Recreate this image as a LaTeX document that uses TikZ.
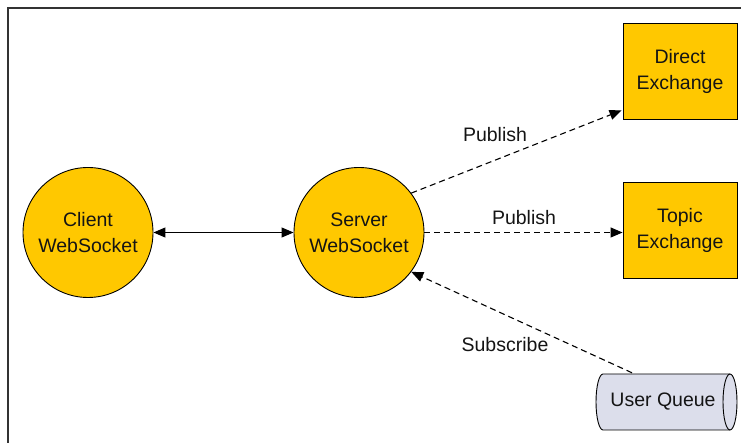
\documentclass[tikz,border=0pt]{standalone}
\usepackage{fontspec}
\setmainfont{Liberation Sans}
\usetikzlibrary{arrows.meta,calc}
\definecolor{gold}{RGB}{255,200,0}
\definecolor{qfill}{RGB}{220,222,235}
\definecolor{ink}{RGB}{20,20,20}
\begin{document}
\begin{tikzpicture}[x=1pt,y=1pt,
  txt/.style={font=\fontsize{19.5}{26}\selectfont, text=ink, align=center},
  ball/.style={circle, draw=black, line width=0.9pt, fill=gold, minimum size=130pt, inner sep=0pt, txt},
  exbox/.style={rectangle, draw=black, line width=0.9pt, fill=gold, minimum width=114pt, minimum height=96pt, inner sep=0pt, txt},
  conn/.style={line width=1.1pt, -{Triangle[length=12pt,width=10pt]}},
  dconn/.style={conn, dash pattern=on 6pt off 4pt},
  lbl/.style={txt}
]
\useasboundingbox (0,0) rectangle (741,443);
\draw[line width=1.4pt, draw=black!80] (8,0) -- (8,435) -- (741,435);

\node[ball] (client) at (88,210.5) {Client\\WebSocket};
\node[ball] (server) at (359,210.5) {Server\\WebSocket};
\node[exbox] (direct) at (680,372) {Direct\\Exchange};
\node[exbox] (topic) at (680,212.5) {Topic\\Exchange};

% queue cylinder
\draw[line width=0.9pt, fill=qfill] (603,69) -- (730,69)
  arc[start angle=90,end angle=-90,x radius=7,y radius=28] -- (603,13)
  arc[start angle=270,end angle=90,x radius=7,y radius=28] -- cycle;
\draw[line width=0.9pt] (730,69) arc[start angle=90,end angle=270,x radius=7,y radius=28];
\node[txt, minimum width=141pt, minimum height=56pt, inner sep=0pt] (queue) at (666.5,41) {};
\node[txt] (qlabel) at (663,41) {User Queue};

\draw[conn, {Triangle[length=12pt,width=10pt]}-{Triangle[length=12pt,width=10pt]}] (client) -- (server);
\draw[dconn] (server.37) -- ($(direct.south west)+(-1,9)$) coordinate (dtip);
\draw[dconn] (server.east) -- (server.east -| topic.west);
\coordinate (qstart) at ($(queue.north)+(-34.5,1)$);
\draw[dconn] (qstart) -- (server.-37);

\node[lbl] (l1) at (495,308) {Publish};
\node[lbl] (l2) at (524,225) {Publish};
\node[lbl] (l3) at (505,98) {Subscribe};
\end{tikzpicture}
\end{document}
